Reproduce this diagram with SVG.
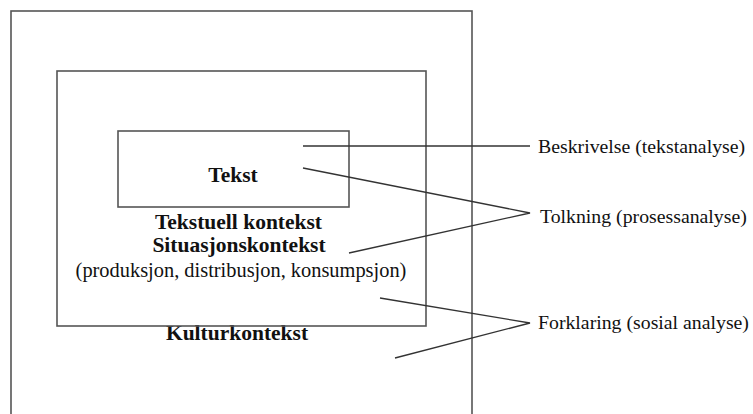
<svg xmlns="http://www.w3.org/2000/svg" width="753" height="414" viewBox="0 0 753 414">
<style>
.box{fill:none;stroke:#555;stroke-width:1.6}
.ln{fill:none;stroke:#333;stroke-width:1.3}
text{font-family:"Liberation Serif","Times New Roman",serif;fill:#111}
.b{font-weight:bold;font-size:21.5px;text-anchor:middle}
.r{font-size:19.8px}
.c{font-size:20.4px;text-anchor:middle}
</style>
<rect width="753" height="414" fill="#fff"/>
<g id="kulturkontekst">
<rect class="box" x="11" y="11" width="461" height="420"/>
<text class="b" x="237" y="340">Kulturkontekst</text>
</g>
<g id="situasjonskontekst">
<rect class="box" x="57" y="71" width="369" height="255"/>
<text class="b" x="238.5" y="229">Tekstuell kontekst</text>
<text class="b" x="239" y="252">Situasjonskontekst</text>
<text class="c" x="241" y="276.5">(produksjon, distribusjon, konsumpsjon)</text>
</g>
<g id="tekst">
<rect class="box" x="118" y="131" width="231" height="76"/>
<text class="b" x="233" y="181.5">Tekst</text>
</g>
<g id="beskrivelse"><text class="r" x="538" y="153">Beskrivelse (tekstanalyse)</text></g>
<g id="tolkning"><text class="r" x="540" y="223">Tolkning (prosessanalyse)</text></g>
<g id="forklaring"><text class="r" x="538" y="329">Forklaring (sosial analyse)</text></g>
<g id="connectors">
<line class="ln" x1="303" y1="146" x2="530" y2="146"/>
<polyline class="ln" points="303,168 530,213 349,253"/>
<polyline class="ln" points="380,298 530,323 395,358"/>
</g>
</svg>
